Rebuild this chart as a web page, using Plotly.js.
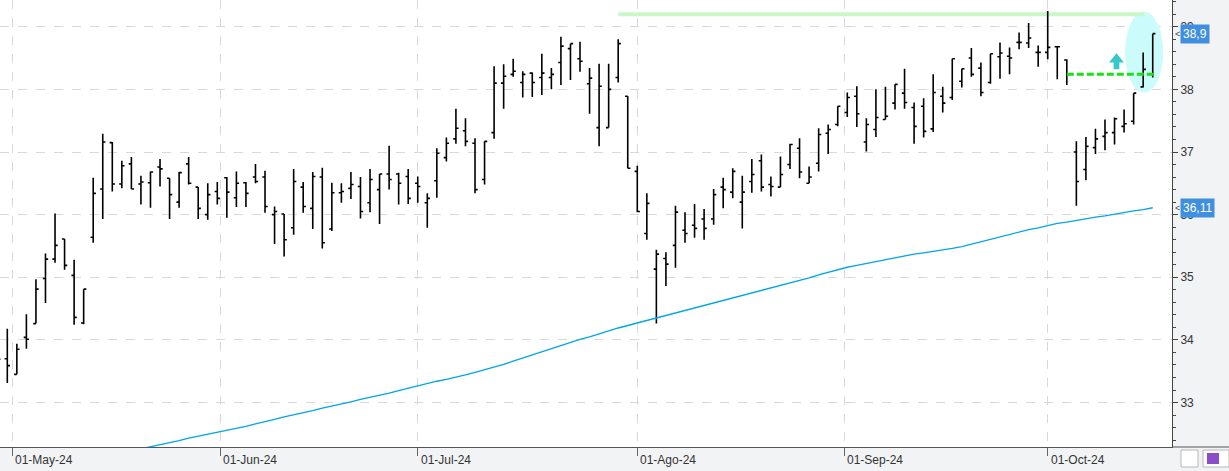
<!DOCTYPE html>
<html><head><meta charset="utf-8">
<script src="https://cdn.plot.ly/plotly-3.0.1.min.js"></script>
<style>html,body{margin:0;padding:0;background:#f2f2f2;overflow:hidden}#chart{width:1229px;height:471px;}</style>
</head><body><div id="chart"></div>
<script>
const dates = [
'2024-04-29','2024-04-30','2024-05-02','2024-05-03','2024-05-06','2024-05-07','2024-05-08','2024-05-09','2024-05-10',
'2024-05-13','2024-05-14','2024-05-15','2024-05-16','2024-05-17','2024-05-20','2024-05-21','2024-05-22','2024-05-23','2024-05-24',
'2024-05-27','2024-05-28','2024-05-29','2024-05-30','2024-05-31','2024-06-03','2024-06-04','2024-06-05','2024-06-06','2024-06-07',
'2024-06-10','2024-06-11','2024-06-12','2024-06-13','2024-06-14','2024-06-17','2024-06-18','2024-06-19','2024-06-20','2024-06-21',
'2024-06-24','2024-06-25','2024-06-26','2024-06-27','2024-06-28','2024-07-01','2024-07-02','2024-07-03','2024-07-04','2024-07-05',
'2024-07-08','2024-07-09','2024-07-10','2024-07-11','2024-07-12','2024-07-15','2024-07-16','2024-07-17','2024-07-18','2024-07-19',
'2024-07-22','2024-07-23','2024-07-24','2024-07-25','2024-07-26','2024-07-29','2024-07-30','2024-07-31','2024-08-01','2024-08-02',
'2024-08-05','2024-08-06','2024-08-07','2024-08-08','2024-08-09','2024-08-12','2024-08-13','2024-08-14','2024-08-15','2024-08-16',
'2024-08-19','2024-08-20','2024-08-21','2024-08-22','2024-08-23','2024-08-26','2024-08-27','2024-08-28','2024-08-29','2024-08-30',
'2024-09-02','2024-09-03','2024-09-04','2024-09-05','2024-09-06','2024-09-09','2024-09-10','2024-09-11','2024-09-12','2024-09-13',
'2024-09-16','2024-09-17','2024-09-18','2024-09-19','2024-09-20','2024-09-23','2024-09-24','2024-09-25','2024-09-26','2024-09-27',
'2024-09-30','2024-10-01','2024-10-02','2024-10-03','2024-10-04','2024-10-07','2024-10-08','2024-10-09','2024-10-10','2024-10-11',
'2024-10-14','2024-10-15','2024-10-16'];

const open = [33.70,33.70,33.45,34.04,34.26,34.98,35.29,35.61,35.03,34.27,35.64,36.41,37.15,36.49,36.81,36.49,36.51,36.76,36.58,36.20,
36.81,36.44,36.00,36.37,36.59,36.27,36.51,36.60,36.60,36.00,36.01,35.79,36.44,36.10,36.60,35.77,36.35,36.42,36.45,36.19,
36.40,36.65,36.65,36.61,36.50,36.19,36.54,36.91,37.21,37.34,37.14,36.56,37.31,38.10,38.24,38.11,38.26,38.19,38.19,38.43,
38.65,38.49,38.09,37.39,37.39,38.19,37.89,36.69,35.70,35.13,35.30,35.51,35.75,35.83,35.93,35.93,36.44,36.36,36.20,36.53,
36.86,36.48,36.44,36.80,37.06,36.50,36.82,37.30,37.44,37.63,37.89,37.16,37.36,37.52,37.78,37.94,37.71,37.73,37.37,37.89,
37.87,38.13,38.50,38.34,38.11,38.52,38.53,38.75,38.74,38.59,38.59,38.68,38.47,37.00,36.72,37.07,37.25,37.31,37.41,37.49,
38.04,38.25];
const high = [33.90,34.18,33.94,34.41,34.97,35.38,36.02,35.61,35.28,34.81,36.59,37.29,37.16,36.86,36.92,36.62,36.69,36.89,36.58,36.68,
36.92,36.44,36.50,36.52,36.60,36.69,36.52,36.81,36.70,36.13,36.01,36.73,36.52,36.68,36.75,36.51,36.50,36.68,36.60,36.73,
36.65,37.10,36.67,36.73,36.61,36.34,37.06,37.23,37.69,37.54,37.22,37.17,38.37,38.40,38.49,38.29,38.27,38.57,38.34,38.84,
38.73,38.76,38.34,38.41,38.41,38.80,37.89,36.78,36.34,35.44,35.40,36.14,36.04,36.17,36.09,36.41,36.59,36.74,36.62,36.89,
36.96,36.61,36.93,37.13,37.22,36.77,37.38,37.44,37.73,37.95,38.05,37.54,38.00,38.04,38.08,38.33,37.79,37.86,38.24,38.04,
38.49,38.33,38.66,38.43,38.57,38.75,38.67,38.91,39.06,38.70,39.25,38.69,38.48,37.17,37.24,37.37,37.52,37.55,37.68,37.94,
38.59,38.89];
const low = [33.50,33.31,33.45,33.86,34.26,34.59,35.23,35.12,34.24,34.25,35.55,35.93,36.37,36.42,36.41,36.16,36.11,36.45,35.93,36.11,
36.48,35.93,35.92,36.16,35.95,36.12,36.12,36.50,36.03,35.53,35.33,35.68,36.03,35.77,35.46,35.74,36.19,36.25,35.94,36.04,
35.85,36.40,36.16,36.17,36.19,35.79,36.27,36.85,37.13,37.09,36.34,36.48,37.21,37.69,38.20,37.87,37.88,37.91,38.00,38.07,
38.15,38.28,37.61,37.09,37.39,38.11,36.74,36.04,35.60,34.26,34.86,35.15,35.55,35.63,35.60,35.84,36.10,36.26,35.78,36.35,
36.37,36.29,36.44,36.73,36.58,36.50,36.69,36.97,37.41,37.56,37.40,37.01,37.24,37.52,37.68,37.69,37.13,37.23,37.32,37.63,
37.83,38.03,38.20,37.89,38.09,38.17,38.24,38.64,38.66,38.36,38.48,38.16,38.07,36.14,36.55,36.97,37.03,37.12,37.31,37.44,
38.03,38.19];
const close = [33.69,33.59,33.85,34.01,34.81,35.29,35.51,35.19,34.36,34.81,36.34,37.16,36.49,36.78,36.41,36.52,36.68,36.73,36.32,36.67,
36.50,36.10,36.32,36.26,36.36,36.50,36.34,36.53,36.13,36.05,35.60,36.53,36.13,36.61,35.55,36.35,36.37,36.48,36.05,36.56,
36.65,36.56,36.50,36.26,36.45,36.26,36.98,37.14,37.38,37.17,36.40,37.17,38.10,38.21,38.29,38.24,38.11,38.26,38.24,38.69,
38.73,38.45,38.18,38.05,38.00,38.73,36.74,36.05,36.18,35.37,35.21,36.04,35.70,35.78,35.78,36.32,36.40,36.69,36.36,36.64,
36.44,36.45,36.64,37.12,36.68,36.60,37.28,37.36,37.73,37.87,37.61,37.44,37.55,37.57,38.08,37.79,37.41,37.33,37.95,37.78,
38.49,38.33,38.24,37.95,38.57,38.58,38.50,38.75,38.82,38.59,38.67,38.68,38.24,36.53,37.09,37.21,37.31,37.53,37.45,37.94,
38.32,38.89];
const ma200 = [null,null,null,null,null,null,null,null,null,null,null,null,null,null,
32.23,32.26,32.29,32.33,32.36,32.39,32.43,32.46,32.49,32.52,32.55,32.59,32.62,32.66,32.69,32.73,32.77,32.80,32.84,32.87,32.91,32.94,
32.98,33.01,33.05,33.08,33.12,33.15,33.19,33.23,33.27,33.30,33.34,33.37,33.40,33.44,33.48,33.52,33.57,33.61,33.66,33.71,33.76,
33.82,33.87,33.91,33.96,34.01,34.05,34.10,34.14,34.19,34.23,34.27,34.31,34.35,34.39,34.43,34.47,34.51,34.55,34.59,34.63,34.67,
34.71,34.75,34.79,34.82,34.86,34.91,34.95,34.99,35.04,35.08,35.13,35.16,35.19,35.22,35.25,35.28,35.32,35.35,35.37,35.39,35.41,
35.43,35.46,35.49,35.53,35.57,35.61,35.65,35.69,35.72,35.76,35.79,35.83,35.86,35.88,35.91,35.93,35.96,35.98,36.01,36.03,36.06,
36.08,36.11];

const monthStarts = ['2024-05-01','2024-06-01','2024-07-01','2024-08-01','2024-09-01','2024-10-01'];
const monthLabels = ['01-May-24','01-Jun-24','01-Jul-24','01-Ago-24','01-Sep-24','01-Oct-24'];

// drawn markup (levels in price units, spans in bar index units)
const resistance = {from: 65.0, to: 120.1, level: 39.20};
const breakoutLevel = {from: 112, to: 121.1, level: 38.24};
const highlight = {x0: 118.1, x1: 122.1, y0: 37.95, y1: 39.24};
const arrowMark = {x: 117.2, yTop: 38.575, yHead: 38.43, yBottom: 38.32, head: 0.78, stem: 0.3};

const idx = dates.map((d, i) => i);
const t = dates.map(d => Date.parse(d + 'T00:00:00Z'));
function datePos(ds) {
  const v = Date.parse(ds + 'T00:00:00Z');
  for (let i = 0; i < t.length - 1; i++) {
    if (v >= t[i] && v < t[i + 1]) return i + (v - t[i]) / (t[i + 1] - t[i]);
  }
  return t.length - 1;
}
const monthPos = monthStarts.map(datePos);

const FONT = 'Liberation Sans, Arial, sans-serif';

const traces = [
  {type: 'scatter', mode: 'lines', x: idx, y: ma200, line: {color: '#00a6e6', width: 1.3}, hoverinfo: 'skip', showlegend: false},
  {type: 'ohlc', x: idx, open: open, high: high, low: low, close: close, tickwidth: 0.28,
   increasing: {line: {color: '#000000', width: 1.6}}, decreasing: {line: {color: '#000000', width: 1.6}},
   hoverinfo: 'skip', showlegend: false}
];

const W = 1172, H = 447;
const shapes = [
  {type: 'circle', xref: 'x', yref: 'y', x0: highlight.x0, x1: highlight.x1, y0: highlight.y0, y1: highlight.y1,
   fillcolor: '#ccfbfc', line: {width: 0}, layer: 'between'},
  {type: 'line', xref: 'x', yref: 'y', x0: resistance.from, x1: resistance.to, y0: resistance.level, y1: resistance.level,
   line: {color: '#c8f8c8', width: 4}, layer: 'between'},
  {type: 'line', xref: 'x', yref: 'y', x0: breakoutLevel.from, x1: breakoutLevel.to, y0: breakoutLevel.level, y1: breakoutLevel.level,
   line: {color: '#19e019', width: 3, dash: '7px,3px'}},
  {type: 'path', xref: 'x', yref: 'y', layer: 'above', fillcolor: '#35c9c9', line: {width: 0},
   path: 'M ' + (arrowMark.x) + ' ' + arrowMark.yTop +
         ' L ' + (arrowMark.x + arrowMark.head) + ' ' + arrowMark.yHead +
         ' L ' + (arrowMark.x + arrowMark.stem) + ' ' + arrowMark.yHead +
         ' L ' + (arrowMark.x + arrowMark.stem) + ' ' + arrowMark.yBottom +
         ' L ' + (arrowMark.x - arrowMark.stem) + ' ' + arrowMark.yBottom +
         ' L ' + (arrowMark.x - arrowMark.stem) + ' ' + arrowMark.yHead +
         ' L ' + (arrowMark.x - arrowMark.head) + ' ' + arrowMark.yHead + ' Z'},
  // bottom axis line extension under the price scale
  {type: 'line', xref: 'paper', yref: 'paper', x0: 1, x1: 1229 / W, y0: 0, y1: 0, line: {color: '#555', width: 1}},
  // little buttons bottom right
  {type: 'rect', xref: 'paper', yref: 'paper', x0: 1181 / W, x1: 1198 / W, y0: -20 / H, y1: -3 / H,
   fillcolor: '#ffffff', line: {color: '#b8b8b8', width: 1}},
  {type: 'rect', xref: 'paper', yref: 'paper', x0: 1203 / W, x1: 1229 / W, y0: -20 / H, y1: -3 / H,
   fillcolor: '#ffffff', line: {color: '#b8b8b8', width: 1}},
  {type: 'rect', xref: 'paper', yref: 'paper', x0: 1207 / W, x1: 1219 / W, y0: -17 / H, y1: -6 / H,
   fillcolor: '#8a4fc8', line: {width: 0}}
];

const annotations = monthPos.map((p, i) => ({
  xref: 'x', yref: 'paper', x: p, y: 0, xanchor: 'left', yanchor: 'top', xshift: 1, yshift: -4,
  text: monthLabels[i], showarrow: false, font: {family: FONT, size: 12, color: '#333'}
}));
const lastClose = close[close.length - 1];
const lastMa = ma200[ma200.length - 1];
[[lastClose, lastClose.toFixed(1).replace('.', ',')], [lastMa, lastMa.toFixed(2).replace('.', ',')]].forEach(([v, txt]) => {
  annotations.push({xref: 'paper', yref: 'y', x: 1180 / W, y: v, xanchor: 'left', yanchor: 'middle',
    text: txt, showarrow: false, bgcolor: '#3f8fe0', borderpad: 2,
    font: {family: FONT, size: 12, color: '#ffffff'}});
  annotations.push({xref: 'paper', yref: 'y', x: 1173 / W, y: v, xanchor: 'left', yanchor: 'middle',
    text: '&lt;', showarrow: false, font: {family: FONT, size: 9, color: '#444'}});
});

const layout = {
  width: 1229, height: 471,
  margin: {l: 0, r: 57, t: 0, b: 24, pad: 0},
  paper_bgcolor: '#f2f3f5', plot_bgcolor: '#ffffff',
  showlegend: false, dragmode: false,
  xaxis: {
    type: 'linear', range: [0.235, 123.02], rangeslider: {visible: false},
    tickmode: 'array', tickvals: monthPos, showticklabels: false,
    ticks: 'outside', ticklen: 8, tickcolor: '#666', tickwidth: 1,
    showgrid: true, gridcolor: '#d8d8d8', griddash: 'dash', gridwidth: 1,
    showline: true, linecolor: '#555', linewidth: 1, zeroline: false, fixedrange: true
  },
  yaxis: {
    side: 'right', range: [32.29, 39.427], tickmode: 'linear', tick0: 33, dtick: 1,
    ticks: 'outside', ticklen: 5, tickcolor: '#444', tickwidth: 1,
    tickfont: {family: FONT, size: 12, color: '#333'},
    showgrid: true, gridcolor: '#d8d8d8', griddash: 'dash', gridwidth: 1,
    minor: {dtick: 0.2, ticks: 'outside', ticklen: 3, tickcolor: '#444', showgrid: false},
    showline: true, linecolor: '#444', linewidth: 1, zeroline: false, fixedrange: true
  },
  shapes: shapes,
  annotations: annotations
};

Plotly.newPlot('chart', traces, layout, {displayModeBar: false, staticPlot: true});
</script>
</body></html>
